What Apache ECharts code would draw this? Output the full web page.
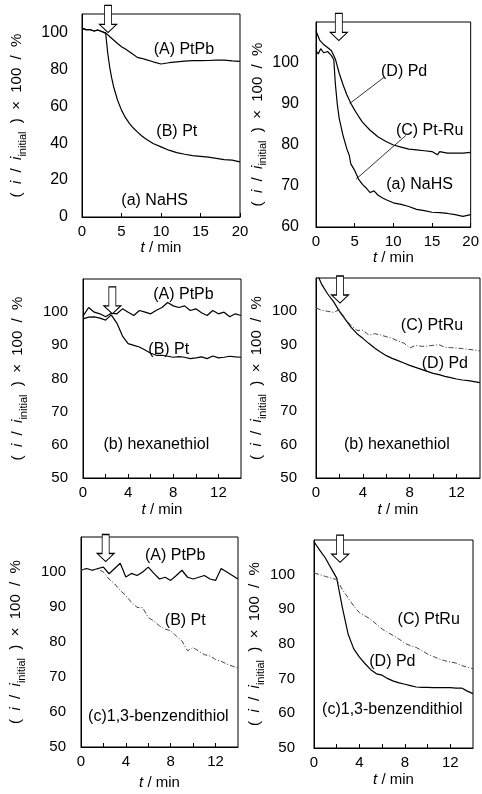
<!DOCTYPE html>
<html>
<head>
<meta charset="utf-8">
<script src="https://cdn.jsdelivr.net/npm/echarts@6/dist/echarts.min.js"></script>
<style>
html, body { margin: 0; padding: 0; background: #fff; }
#main { width: 482px; height: 794px; }
</style>
</head>
<body>
<div id="main"></div>
<script>
// (a) NaHS, left panel
var tNaPtPb = [0, 0.5, 1, 1.5, 2, 2.5, 3, 3.5, 4, 4.5, 5, 5.5, 6, 6.5, 7, 7.5, 8, 9, 10, 11, 12, 13, 14, 15, 16, 17, 18, 19, 20];
var vNaPtPb = [102.2, 101.5, 101.6, 100.8, 101.3, 100.5, 99.8, 97.8, 95.9, 94, 92.3, 91, 89.6, 88, 86.5, 86, 85.4, 84.1, 82.9, 83.6, 84.1, 84.5, 84.7, 84.7, 84.8, 85, 85, 84.6, 84.3];
var tNaPt = [0, 0.5, 1, 1.5, 2, 2.5, 3, 3.25, 3.5, 3.75, 4, 4.5, 5, 5.5, 6, 6.5, 7, 7.5, 8, 9, 10, 11, 12, 13, 14, 15, 16, 17, 18, 19, 20];
var vNaPt = [102.2, 101.5, 101.6, 100.8, 101.3, 100.5, 99.5, 89, 81.4, 75.5, 70.6, 63.3, 57.9, 53.8, 50.7, 48.2, 46.1, 44.2, 42.5, 39.8, 38, 36.2, 34.9, 34, 33.3, 32.9, 32.4, 31.8, 31.1, 30.8, 29.9];

// (a) NaHS, right panel
var tNaPd = [0, 0.5, 1, 1.5, 2, 2.5, 3, 3.5, 4, 4.5, 5, 5.5, 6, 7, 8, 9, 10, 11, 12, 13, 14, 15, 15.7, 16, 17, 18, 19, 20];
var vNaPd = [107.8, 105.5, 104.5, 103.8, 103, 101, 97.5, 94.7, 92.2, 90.2, 88.5, 87, 85.6, 83.6, 82, 80.9, 80, 79.5, 79, 78.8, 78.6, 78.4, 77.6, 78.4, 78, 78, 78, 78.2];
var tNaPtRu = [0, 0.3, 0.6, 1, 1.5, 2, 2.3, 2.5, 2.75, 3, 3.5, 4, 4.3, 4.5, 5, 5.5, 6, 6.5, 7, 7.5, 8, 8.5, 9, 10, 11, 12, 13, 14, 15, 16, 17, 18, 19, 20];
var vNaPtRu = [103, 102.2, 103.5, 102.5, 102.8, 101.8, 100.8, 95, 90, 86.5, 82.3, 79, 77.5, 75.4, 73.8, 71.7, 70.4, 69.5, 68.4, 68.8, 67.8, 67.2, 66.7, 65.9, 65.5, 65, 64.3, 64, 63.6, 63.5, 63.3, 63, 62.6, 63];

// (b) hexanethiol and (c) 1,3-benzendithiol share the time grid
var tMin14 = [0, 0.5, 1, 1.5, 2, 2.5, 3, 3.5, 4, 4.5, 5, 5.5, 6, 6.5, 7, 7.5, 8, 8.5, 9, 9.5, 10, 10.5, 11, 11.5, 12, 12.5, 13, 13.5, 14];
var vHexPtPb = [98.8, 101.4, 100, 99.5, 98.6, 99.7, 99.5, 101, 100, 99, 100.5, 100, 99.5, 100.6, 101.4, 102.9, 101.9, 101.4, 101.9, 100.5, 101, 99.8, 99, 100.5, 99.5, 100, 98.6, 99.5, 99];
var vHexPt = [98, 98.5, 98.6, 98.2, 97.6, 99.2, 96.7, 92.8, 90.5, 90, 89.5, 88.6, 87.6, 87, 87, 86.7, 86.4, 86.6, 86.4, 86, 86.2, 86.5, 86, 86.8, 86.2, 86.4, 86.7, 86.5, 86.4];
var vHexPd = [112, 108, 105.2, 102.9, 100, 97.6, 95.2, 93.3, 91.9, 90.4, 89, 87.8, 86.7, 85.9, 85.2, 84.5, 83.8, 83.2, 82.6, 82, 81.4, 81, 80.5, 80.1, 79.7, 79.4, 79.2, 78.9, 78.6];
var vHexPtRu = [101, 100.3, 100, 99.7, 100.5, 97.8, 95.7, 94.3, 94.3, 92.9, 93.3, 92.9, 92.4, 91.9, 91.1, 90.5, 89, 89.8, 89.5, 89.6, 89.8, 90, 89.2, 89.1, 89, 88.8, 88.6, 88.4, 88.1];
var vBdtPtPb = [100.5, 101, 100.5, 101, 101.4, 99.5, 101, 102.5, 98.6, 99.6, 99, 100, 101.4, 99.6, 98, 98.5, 97.6, 99, 100.5, 98.5, 98, 98.5, 99, 98, 97.6, 101, 100, 99, 98];
var vBdtPt = [100.5, 101, 100.5, 100.8, 100, 98, 96.6, 94.7, 93.3, 91.3, 89.9, 89.8, 87, 86, 84.6, 83.7, 83.2, 81.7, 80.3, 77.5, 78.4, 77.4, 76.4, 76, 75, 74.5, 73.7, 73.1, 72.6];
var vBdtPd = [109.5, 107.1, 104.8, 101.9, 99, 90.5, 82.9, 78.6, 76.2, 74.3, 72.6, 71.4, 71, 70, 69.3, 68.8, 68.4, 68, 67.6, 67.5, 67.5, 67.4, 67.4, 67.4, 67.4, 67.3, 67.3, 66.4, 65.7];
var vBdtPtRu = [100.5, 100, 99.5, 99, 98.6, 95.7, 93.3, 91, 89, 88.1, 87.1, 85.7, 84.3, 83.3, 82.4, 81.4, 80.2, 79.5, 79, 78.1, 77.1, 76.4, 75.7, 75.2, 74.8, 74.5, 73.8, 73.3, 72.9];

// injection arrows: time and value of the tip, one per panel
var arrowTime = [3.3, 2.95, 2.6, 2.05, 2.2, 2.3];
var arrowTip = [100, 105.5, 99.5, 102.5, 103, 103.6];

var FONT = 'Liberation Sans, Arial, sans-serif';
var SOLID = { color: '#000', width: 1.2 };
var DASHDOT = { color: '#444', width: 1, type: [5, 2, 1, 2] };

var panels = [
  { grid: { left: 82, top: 14, width: 158, height: 203 }, xMax: 20, xStep: 5, yMin: 0, yMax: 110, yStep: 20,
    yGap: 54, xGap: 21, yFont: 16, yMargin: 14,
    lines: [[tNaPtPb, vNaPtPb, SOLID], [tNaPt, vNaPt, SOLID]],
    texts: [['(A) PtPb', 12.9, 90.8], ['(B) Pt', 12, 46.1], ['(a) NaHS', 9.2, 9]], leaders: [] },
  { grid: { left: 316, top: 22, width: 157, height: 205 }, xMax: 20, xStep: 5, yMin: 60, yMax: 110, yStep: 10,
    yGap: 47, xGap: 19, yFont: 16, yMargin: 17,
    lines: [[tNaPd, vNaPd, SOLID], [tNaPtRu, vNaPtRu, SOLID]],
    texts: [['(D) Pd', 11.4, 98], ['(C) Pt-Ru', 14.7, 83.6], ['(a) NaHS', 13.4, 70.4]],
    leaders: [[8.8, 96.5, 4.35, 90.1], [11.6, 82.3, 5.2, 71.7]] },
  { grid: { left: 83, top: 279, width: 158, height: 199 }, xMax: 14, xStep: 2, yMin: 50, yMax: 110, yStep: 10,
    yGap: 54, xGap: 24, yFont: 15, yMargin: 15,
    lines: [[tMin14, vHexPtPb, SOLID], [tMin14, vHexPt, SOLID]],
    texts: [['(A) PtPb', 8.9, 105.2], ['(B) Pt', 7.6, 88.6], ['(b) hexanethiol', 6.5, 60]], leaders: [] },
  { grid: { left: 316, top: 278, width: 164, height: 200 }, xMax: 14, xStep: 2, yMin: 50, yMax: 110, yStep: 10,
    yGap: 47, xGap: 24, yFont: 15, yMargin: 19,
    lines: [[tMin14, vHexPd, SOLID], [tMin14, vHexPtRu, DASHDOT]],
    texts: [['(C) PtRu', 9.9, 95.7], ['(D) Pd', 11, 84.3], ['(b) hexanethiol', 6.9, 60]], leaders: [] },
  { grid: { left: 81, top: 537, width: 157, height: 210 }, xMax: 14, xStep: 2, yMin: 50, yMax: 110, yStep: 10,
    yGap: 54, xGap: 28, yFont: 15, yMargin: 15,
    lines: [[tMin14, vBdtPtPb, SOLID], [tMin14, vBdtPt, DASHDOT]],
    texts: [['(A) PtPb', 8.4, 104.8], ['(B) Pt', 9.3, 86], ['(c)1,3-benzendithiol', 6.9, 58.7]], leaders: [] },
  { grid: { left: 314, top: 540, width: 159, height: 208 }, xMax: 14, xStep: 2, yMin: 50, yMax: 110, yStep: 10,
    yGap: 47, xGap: 24, yFont: 15, yMargin: 19,
    lines: [[tMin14, vBdtPd, SOLID], [tMin14, vBdtPtRu, DASHDOT]],
    texts: [['(C) PtRu', 10.1, 87.1], ['(D) Pd', 6.9, 74.8], ['(c)1,3-benzendithiol', 6.9, 61]], leaders: [] }
];

function zip(t, v) {
  return t.map(function (x, i) { return [x, v[i]]; });
}

var grids = [], xAxes = [], yAxes = [], series = [];

panels.forEach(function (p, i) {
  grids.push(Object.assign({ show: true, borderColor: '#000', borderWidth: 1, backgroundColor: 'transparent' }, p.grid));

  xAxes.push({
    gridIndex: i, type: 'value', min: 0, max: p.xMax, interval: p.xStep,
    axisLine: { show: true, onZero: false, lineStyle: { color: '#000', width: 1 } },
    axisTick: { show: true, inside: true, length: 4, lineStyle: { color: '#000' } },
    splitLine: { show: false },
    axisLabel: {
      color: '#000', fontSize: 15, fontFamily: FONT, margin: 7,
      showMaxLabel: p.xStep !== 2,
      formatter: function (v) { return p.xStep === 2 && v % 4 !== 0 ? '' : String(v); }
    },
    name: '{i|t} / min', nameLocation: 'middle', nameGap: p.xGap,
    nameTextStyle: { color: '#000', fontSize: 15, fontFamily: FONT, rich: { i: { fontStyle: 'italic', fontSize: 15, fontFamily: FONT } } }
  });

  yAxes.push({
    gridIndex: i, type: 'value', min: p.yMin, max: p.yMax, interval: p.yStep,
    axisLine: { show: true, onZero: false, lineStyle: { color: '#000', width: 1 } },
    axisTick: { show: false },
    splitLine: { show: false },
    axisLabel: { color: '#000', fontSize: p.yFont, fontFamily: FONT, margin: p.yMargin, showMaxLabel: false },
    name: '(  {i|i}  /  {i|i}{s|initial}  )  ×  100  /  %', nameLocation: 'middle', nameGap: p.yGap, nameRotate: 90,
    nameTextStyle: {
      color: '#000', fontSize: 15, fontFamily: FONT, lineHeight: 22,
      rich: {
        i: { fontStyle: 'italic', fontSize: 15, fontFamily: FONT, lineHeight: 22 },
        s: { fontSize: 11, fontFamily: FONT, lineHeight: 22, verticalAlign: 'bottom' }
      }
    }
  });

  p.lines.forEach(function (ln, k) {
    var s = {
      type: 'line', xAxisIndex: i, yAxisIndex: i, data: zip(ln[0], ln[1]),
      showSymbol: false, symbol: 'none', lineStyle: ln[2], animation: false, silent: true
    };
    if (k === 0) {
      var marks = [{
        coord: [arrowTime[i], arrowTip[i]],
        symbol: 'path://M5,0L12,0L12,19L17,19L8.5,27L0,19L5,19Z',
        symbolSize: [17, 27], symbolOffset: [0, '-50%'],
        itemStyle: { color: '#fff', borderColor: '#000', borderWidth: 1 },
        label: { show: false }
      }];
      p.texts.forEach(function (tx) {
        marks.push({
          coord: [tx[1], tx[2]], symbol: 'rect', symbolSize: 1,
          itemStyle: { color: 'rgba(0,0,0,0)' },
          label: { show: true, position: 'inside', formatter: tx[0], color: '#000', fontSize: 16, fontFamily: FONT }
        });
      });
      s.markPoint = { silent: true, animation: false, data: marks };
      if (p.leaders.length) {
        s.markLine = {
          silent: true, animation: false, symbol: ['none', 'none'],
          lineStyle: { color: '#000', width: 0.8, type: 'solid' }, label: { show: false },
          data: p.leaders.map(function (l) { return [{ coord: [l[0], l[1]] }, { coord: [l[2], l[3]] }]; })
        };
      }
    }
    series.push(s);
  });
});

var myChart = echarts.init(document.getElementById('main'));
myChart.setOption({
  animation: false,
  backgroundColor: '#fff',
  grid: grids,
  xAxis: xAxes,
  yAxis: yAxes,
  series: series
});
</script>
</body>
</html>
